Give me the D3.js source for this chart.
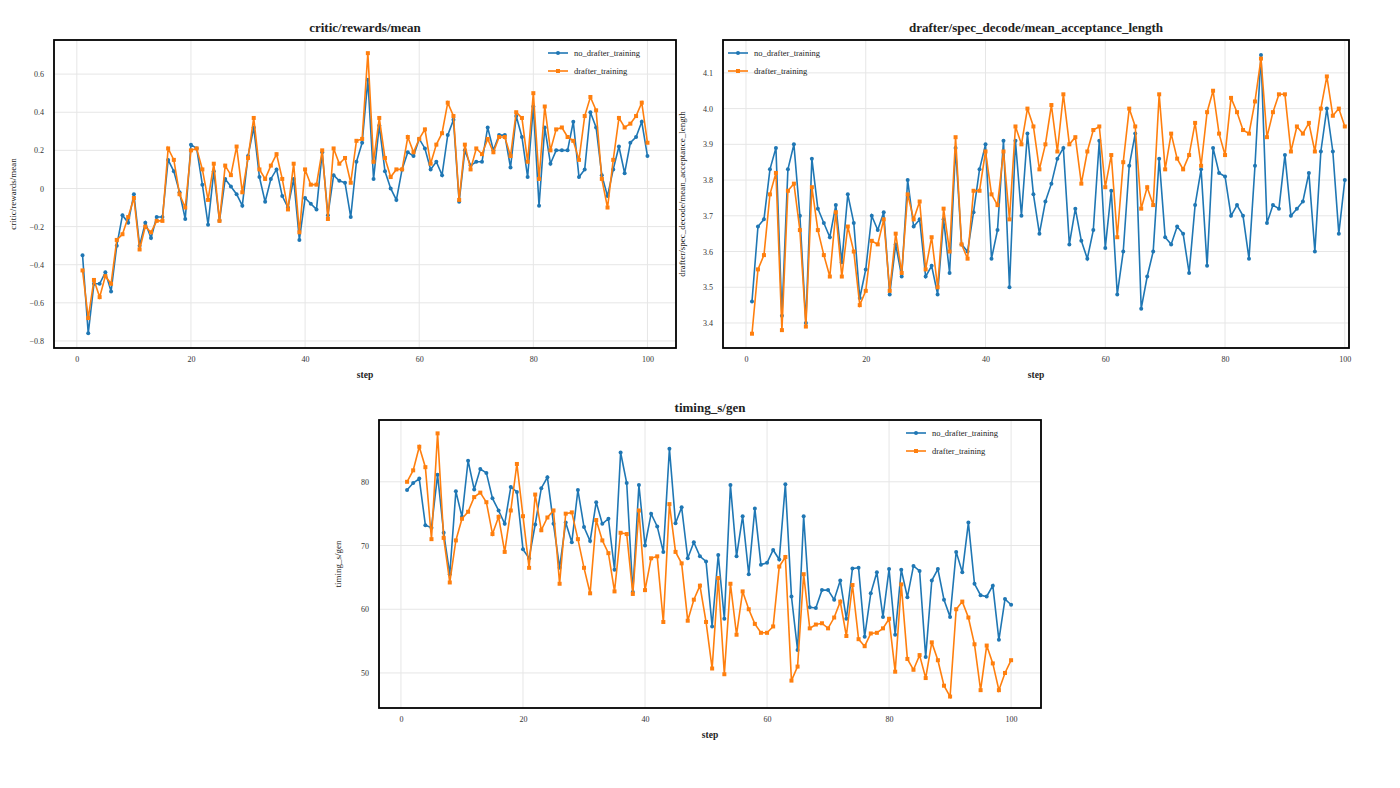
<!DOCTYPE html>
<html><head><meta charset="utf-8">
<script src="https://cdn.jsdelivr.net/npm/d3@7"></script>
<style>body{margin:0;background:#fff}svg{font-family:"Liberation Serif","DejaVu Serif",serif}</style>
</head><body><svg id="c" width="1400" height="788"></svg>
<script>
const steps = d3.range(1,101);
const seriesNames = ["no_drafter_training","drafter_training"];
const rewardsNo = [-0.35,-0.76,-0.5,-0.5,-0.44,-0.54,-0.3,-0.14,-0.18,-0.03,-0.3,-0.18,-0.26,-0.15,-0.15,0.15,0.09,-0.02,-0.16,0.23,0.21,0.02,-0.19,0.09,-0.17,0.05,0.01,-0.03,-0.09,0.17,0.32,0.06,-0.07,0.05,0.1,-0.04,-0.1,0.05,-0.27,-0.05,-0.08,-0.11,0.19,-0.14,0.07,0.04,0.03,-0.15,0.14,0.24,0.57,0.05,0.33,0.09,0.0,-0.06,0.1,0.19,0.17,0.26,0.21,0.1,0.14,0.07,0.28,0.36,-0.07,0.2,0.12,0.14,0.14,0.32,0.2,0.28,0.28,0.11,0.38,0.27,0.06,0.43,-0.09,0.32,0.13,0.2,0.2,0.2,0.35,0.06,0.1,0.4,0.32,0.07,-0.04,0.1,0.22,0.08,0.24,0.27,0.35,0.17];
const rewardsDr = [-0.43,-0.68,-0.48,-0.57,-0.46,-0.5,-0.27,-0.24,-0.15,-0.05,-0.32,-0.2,-0.23,-0.17,-0.17,0.21,0.15,-0.03,-0.1,0.2,0.21,0.1,-0.06,0.13,-0.17,0.12,0.07,0.22,-0.02,0.16,0.37,0.1,0.05,0.12,0.18,0.05,-0.11,0.13,-0.23,0.1,0.02,0.02,0.2,-0.16,0.21,0.13,0.16,0.03,0.25,0.26,0.71,0.14,0.37,0.16,0.06,0.1,0.1,0.27,0.19,0.26,0.31,0.13,0.23,0.29,0.45,0.38,-0.06,0.23,0.1,0.21,0.18,0.26,0.19,0.27,0.27,0.17,0.4,0.37,0.14,0.5,0.05,0.43,0.2,0.31,0.32,0.27,0.25,0.15,0.38,0.48,0.41,0.05,-0.1,0.15,0.37,0.32,0.34,0.38,0.45,0.24];
const accNo = [3.46,3.67,3.69,3.83,3.89,3.42,3.83,3.9,3.7,3.4,3.86,3.72,3.68,3.64,3.73,3.57,3.76,3.68,3.47,3.55,3.7,3.66,3.71,3.48,3.62,3.53,3.8,3.67,3.69,3.53,3.56,3.48,3.69,3.54,3.89,3.62,3.6,3.71,3.83,3.9,3.58,3.66,3.91,3.5,3.91,3.7,3.93,3.76,3.65,3.74,3.79,3.86,3.89,3.62,3.72,3.63,3.58,3.66,3.91,3.61,3.77,3.48,3.6,3.84,3.93,3.44,3.53,3.6,3.86,3.64,3.62,3.67,3.65,3.54,3.73,3.83,3.56,3.89,3.82,3.81,3.7,3.73,3.7,3.58,3.84,4.15,3.68,3.73,3.72,3.87,3.7,3.72,3.74,3.82,3.6,3.88,4.0,3.88,3.65,3.8];
const accDr = [3.37,3.55,3.59,3.76,3.82,3.38,3.77,3.79,3.66,3.39,3.78,3.66,3.59,3.53,3.71,3.53,3.67,3.6,3.45,3.49,3.63,3.62,3.69,3.49,3.65,3.54,3.76,3.69,3.74,3.55,3.64,3.5,3.72,3.6,3.92,3.62,3.58,3.77,3.77,3.88,3.76,3.73,3.88,3.69,3.95,3.9,4.0,3.95,3.83,3.9,4.01,3.88,4.04,3.9,3.92,3.79,3.88,3.94,3.95,3.78,3.87,3.64,3.85,4.0,3.95,3.72,3.78,3.73,4.04,3.83,3.93,3.86,3.83,3.87,3.96,3.84,3.99,4.05,3.93,3.87,4.03,3.99,3.94,3.93,4.02,4.14,3.92,3.99,4.04,4.04,3.88,3.95,3.93,3.96,3.88,4.0,4.09,3.98,4.0,3.95];
const genNo = [78.7,79.8,80.5,73.2,72.8,81.1,72,65.5,78.5,74.5,83.3,78.8,82,81.4,77.4,75.5,73.4,79.2,78.4,69.4,68,73.3,79,80.7,73.4,66.5,73.6,70.5,78.7,72.9,70.7,76.8,73.4,74.2,66.2,84.6,79.8,62.7,79.5,70,75,73,69,85.2,73.5,76,68,70.5,68.3,67.5,57.3,68.5,58.5,79.5,68.3,74.6,65.5,75.8,67,67.3,69.3,67.8,79.6,62,53.6,74.6,60.3,60.2,63,63,61.5,64.5,58.5,66.4,66.5,55.7,62.5,65.8,58.8,66.3,56,66.2,61.9,66.8,66,52.5,64.5,66.3,61.5,58.8,69,65.8,73.6,64,62.2,62,63.7,55.2,61.6,60.7];
const genDr = [80,81.8,85.5,82.3,71,87.6,71.2,64.2,70.8,74.2,75.3,77.6,78.3,76.8,71.8,74.5,69,75.5,82.8,74.6,66.5,78,72.4,74.4,75.5,64,75,75.2,71,66.5,62.5,74,70.8,68.8,62.8,72,71.8,62.4,75.5,63,68,68.3,58,76.5,69,67.2,58.2,61.5,63.7,58,50.7,64.9,49.8,64,56,62.8,60,57.7,56.3,56.3,57.3,66.7,68.2,48.8,51,65.5,57,57.6,57.8,57,58.7,61.2,55.8,63.8,55.3,54.2,56.2,56.3,57,58.5,50.2,63.9,52.2,50.5,52.8,49.2,54.8,52,48,46.3,60,61.2,58.7,54.5,47.3,54.3,51.5,47.3,50,52];
const xTicks = [0,20,40,60,80,100];
const rewardsTicks = [-0.8,-0.6,-0.4,-0.2,0,0.2,0.4,0.6];
const accTicks = [3.4,3.5,3.6,3.7,3.8,3.9,4.0,4.1];
const genTicks = [50,60,70,80];
const colors = ["#1f77b4","#ff7f0e"];

const svg = d3.select("#c");
function panel(o){
  const g = svg.append("g");
  const x = d3.scaleLinear().domain(o.xd).range([o.x0,o.x1]);
  const y = d3.scaleLinear().domain(o.yd).range([o.y1,o.y0]);
  g.selectAll(".gx").data(xTicks).enter().append("line").attr("x1",d=>x(d)).attr("x2",d=>x(d)).attr("y1",o.y0).attr("y2",o.y1).attr("stroke","#e6e6e6");
  g.selectAll(".gy").data(o.yt).enter().append("line").attr("y1",d=>y(d)).attr("y2",d=>y(d)).attr("x1",o.x0).attr("x2",o.x1).attr("stroke","#e6e6e6");
  const styleAx = a=>{a.select(".domain").remove();a.attr("color","#333");a.selectAll("text").attr("font-size",8).attr("font-family","Liberation Serif");};
  g.append("g").attr("transform",`translate(0,${o.y1})`).call(d3.axisBottom(x).tickValues(xTicks).tickSize(0).tickPadding(8)).call(styleAx);
  g.append("g").attr("transform",`translate(${o.x0},0)`).call(d3.axisLeft(y).tickValues(o.yt).tickFormat(o.fmt).tickSize(0).tickPadding(10)).call(styleAx);
  const data=[o.a,o.b];
  data.forEach((vals,i)=>{
    const pts = steps.map((s,j)=>[s,vals[j]]);
    g.append("path").datum(pts).attr("fill","none").attr("stroke",colors[i]).attr("stroke-width",1.6).attr("d",d3.line().x(d=>x(d[0])).y(d=>y(d[1])));
    if(i===0) g.selectAll(null).data(pts).enter().append("circle").attr("cx",d=>x(d[0])).attr("cy",d=>y(d[1])).attr("r",2).attr("fill",colors[0]);
    else g.selectAll(null).data(pts).enter().append("rect").attr("x",d=>x(d[0])-2).attr("y",d=>y(d[1])-2).attr("width",4).attr("height",4).attr("fill",colors[1]);
  });
  g.append("rect").attr("x",o.x0).attr("y",o.y0).attr("width",o.x1-o.x0).attr("height",o.y1-o.y0).attr("fill","none").attr("stroke","#000").attr("stroke-width",1.8);
  g.append("text").attr("x",(o.x0+o.x1)/2).attr("y",o.y0-8).attr("text-anchor","middle").attr("font-size",13).attr("font-weight","bold").attr("fill","#222").text(o.title);
  g.append("text").attr("x",(o.x0+o.x1)/2).attr("y",o.y1+30).attr("text-anchor","middle").attr("font-size",9.5).attr("font-weight","bold").attr("fill","#222").text("step");
  g.append("text").attr("transform",`translate(${o.x0-38},${(o.y0+o.y1)/2}) rotate(-90)`).attr("text-anchor","middle").attr("font-size",9).attr("fill","#222").text(o.title);
  seriesNames.forEach((n,i)=>{
    const ly=o.ly+i*18;
    g.append("line").attr("x1",o.lx).attr("x2",o.lx+20).attr("y1",ly).attr("y2",ly).attr("stroke",colors[i]).attr("stroke-width",1.6);
    if(i===0) g.append("circle").attr("cx",o.lx+10).attr("cy",ly).attr("r",2).attr("fill",colors[0]);
    else g.append("rect").attr("x",o.lx+8).attr("y",ly-2).attr("width",4).attr("height",4).attr("fill",colors[1]);
    g.append("text").attr("x",o.lx+26).attr("y",ly+3).attr("font-size",8.5).attr("fill","#222").text(n);
  });
}
panel({x0:54,x1:676,y0:40,y1:348,xd:[-4,105],yd:[-0.837,0.779],yt:rewardsTicks,fmt:d=>d===0?"0":d3.format(".1f")(d),a:rewardsNo,b:rewardsDr,title:"critic/rewards/mean",lx:548,ly:53});
panel({x0:723,x1:1349,y0:40,y1:348,xd:[-3.84,100.7],yd:[3.33,4.192],yt:accTicks,fmt:d3.format(".1f"),a:accNo,b:accDr,title:"drafter/spec_decode/mean_acceptance_length",lx:728,ly:53});
panel({x0:379,x1:1041,y0:420,y1:708,xd:[-3.6,104.9],yd:[44.5,89.7],yt:genTicks,fmt:d3.format("d"),a:genNo,b:genDr,title:"timing_s/gen",lx:906,ly:433});
</script></body></html>
